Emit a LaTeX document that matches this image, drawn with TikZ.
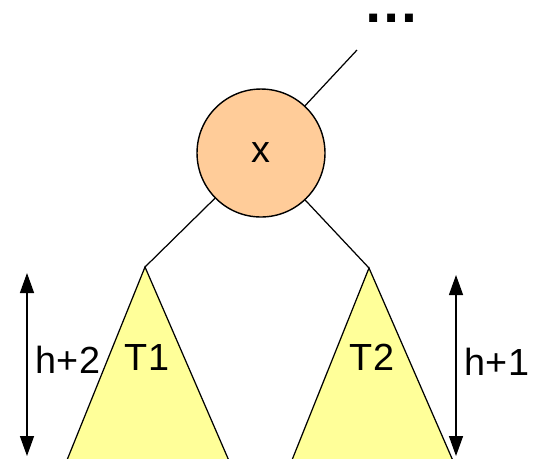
\documentclass[tikz,border=0pt]{standalone}
\usepackage{fontspec}
\setmainfont{Liberation Sans}
\usetikzlibrary{arrows.meta}
\definecolor{nodefill}{RGB}{255,204,153}
\definecolor{treefill}{RGB}{255,255,153}
\tikzset{
  knot/.style ={circle,draw,fill=nodefill,line width=0.8pt,
                 minimum size=2.56cm,inner sep=0pt},
  subtree/.style ={draw,fill=treefill,line width=0.7pt},
  edge/.style ={line width=0.7pt},
  lbl/.style  ={font=\fontsize{21.5}{25}\selectfont,inner sep=0pt},
  dim/.style  ={{Triangle[length=0.4cm,width=0.28cm]}-{Triangle[length=0.4cm,width=0.28cm]},
                 line width=0.8pt},
}

\begin{document}
\begin{tikzpicture}[x=0.02cm,y=-0.02cm]
  \useasboundingbox (0,0) rectangle (533,458);
  \clip (0,0) rectangle (533,458);
  % subtrees
  \coordinate (t1top) at (145,267);
  \coordinate (t2top) at (369,268);
  \draw[subtree] (t1top) -- (63,470) -- (233,470) -- cycle;
  \draw[subtree] (t2top) -- (288,470) -- (457,470) -- cycle;
  \node[lbl] (t1) at (147,357) {T1};
  \node[lbl] (t2) at (372,357) {T2};
  % root of the subtree
  \node[knot,font=\fontsize{21.5}{25}\selectfont] (x) at (261,153) {x};
  \coordinate (up) at (357,50);
  \node[font=\fontsize{32}{36}\selectfont\bfseries,inner sep=0pt,
        text height=0.2cm,text depth=0pt,anchor=base] (dots) at (392,22) {…};
  \draw[edge] (x) -- (up);
  \draw[edge] (x) -- (t1top);
  \draw[edge] (x) -- (t2top);
  % heights
  \coordinate (l1) at (27,273);
  \coordinate (l2) at (27,456);
  \coordinate (r1) at (456,275);
  \coordinate (r2) at (456,456);
  \draw[dim] (l1) -- (l2);
  \draw[dim] (r1) -- (r2);
  \node[lbl] (h2) at (68,360) {h+2};
  \node[lbl] (h1) at (497,362) {h+1};
\end{tikzpicture}
\end{document}
